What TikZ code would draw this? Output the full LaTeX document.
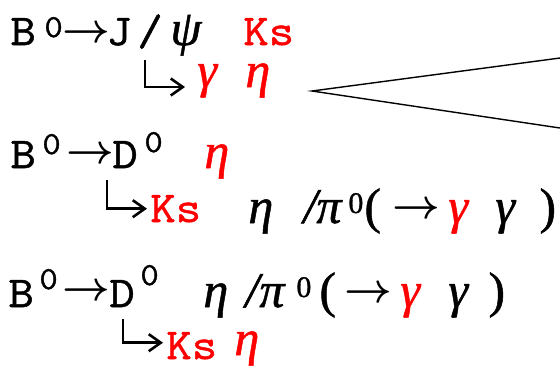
\documentclass[tikz,border=0pt]{standalone}
\usepackage{fontspec}
\setmonofont{Latin Modern Mono}[FakeStretch=1.12,FakeBold=1.2]
\newfontfamily\grkfont{Liberation Serif}[FakeBold=1]
\usetikzlibrary{arrows.meta}
\definecolor{sigred}{RGB}{255,0,0}
\tikzset{
  tok/.style={inner sep=0pt, anchor=base west},
  mono/.style={tok, font=\fontsize{22}{26}\selectfont\ttfamily},
  monosup/.style={tok, font=\fontsize{16}{19}\selectfont\ttfamily},
  gk/.style={tok, font=\fontsize{25}{30}\selectfont\grkfont\itshape},
  gkup/.style={tok, font=\fontsize{25}{30}\selectfont\grkfont},
  gksup/.style={tok, font=\fontsize{15}{18}\selectfont\grkfont},
  arw/.style={tok, font=\fontsize{21}{25}\selectfont\boldmath},
  sig/.style={text=sigred},
  hook/.style={draw, line width=1.3pt, -{Straight Barb[length=6pt,width=8.5pt]}},
  fan/.style={draw, line width=0.7pt}
}
\begin{document}
\begin{tikzpicture}[x=0.5pt,y=-0.5pt]
  \useasboundingbox (0,0) rectangle (560,366);
  % B0 -> at the head of each row
  \foreach \r/\xb/\yb/\xz/\yz/\xa/\ya in {1/10/45/44/37/62/42.5, 2/10/168/42/154/66/163.5, 3/8/307/39/289/62/300.5} {
    \node[mono] (b\r) at (\xb,\yb) {B};
    \node[monosup] (bz\r) at (\xz,\yz) {0};
    \node[arw] (a\r) at (\xa,\ya) {$\rightarrow$};
  }

  % row 1
  \node[mono] (j1) at (106,45) {J};
  \node[mono] (sl1) at (137,45) {/};
  \node[gk] (psi1) at (170,45) {ψ};
  \node[mono, sig] (ks1) at (243,45) {Ks};
  \node[gk, sig] (g1) at (197,87) {γ};
  \node[gk, sig] (e1) at (245,87) {η};
  \coordinate (h1) at (145,60);
  \draw[hook] (h1) |- ([xshift=-6pt]g1.base west);

  \coordinate (apex) at (312,91);
  \coordinate (fantop) at (560,58);
  \coordinate (fanbot) at (560,128);
  \draw[fan] (fantop) -- (apex) -- (fanbot);

  % row 2
  \node[mono] (d2) at (112,168) {D};
  \node[monosup] (dz2) at (144,152) {0};
  \node[gk, sig] (eta2) at (204,168) {η};
  \node[mono, sig] (ks2) at (150,222) {Ks};
  \coordinate (h2) at (107,180);
  \draw[hook] (h2) |- ([xshift=-1.5pt]ks2.west);

  % row 3
  \node[mono] (d3) at (109,307) {D};
  \node[monosup] (dz3) at (140,285) {0};
  \node[mono, sig] (ks3) at (166,359) {Ks};
  \node[gk, sig] (eta3) at (234,355) {η};
  \coordinate (h3) at (123,319);
  \draw[hook] (h3) |- ([xshift=-1.5pt,yshift=1.5pt]ks3.west);

  % eta / pi0 (-> gamma gamma)
  \foreach \r/\y/\xe/\xs/\xp/\xz/\xo/\xa/\xg/\xh/\xc in {2/223/248/303/316/348/364/392/448/495/539, 3/307/203/245/259/296/319/344/400/448/488} {
    \node[gk] (et\r) at (\xe,\y) {η};
    \node[gk] (sp\r) at (\xs,\y) {/};
    \node[gk] (pi\r) at (\xp,\y) {π};
    \node[gksup] (pz\r) at (\xz,{\y-10}) {0};
    \node[gkup] (lp\r) at (\xo,\y) {(};
    \node[arw] (ar\r) at (\xa,{\y-5}) {$\rightarrow$};
    \node[gk, sig] (ga\r) at (\xg,\y) {γ};
    \node[gk] (gb\r) at (\xh,\y) {γ};
    \node[gkup] (rp\r) at (\xc,\y) {)};
  }
\end{tikzpicture}
\end{document}
